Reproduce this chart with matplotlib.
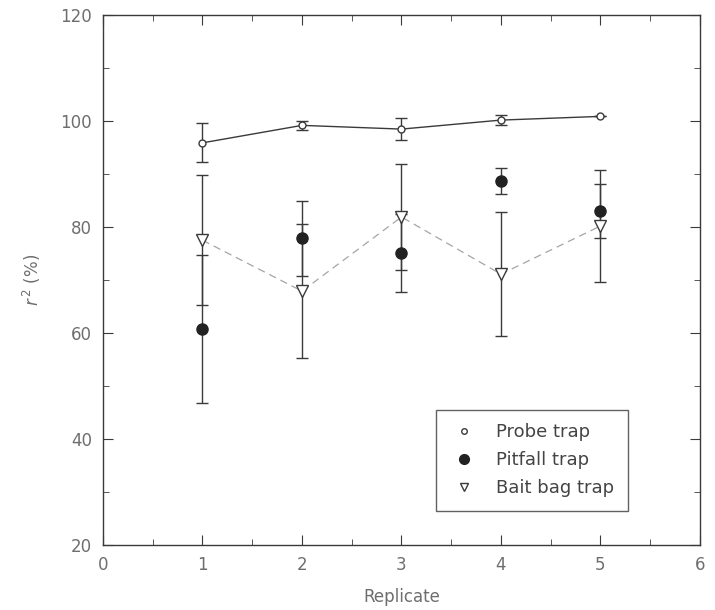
import matplotlib
matplotlib.use("Agg")
import matplotlib.pyplot as plt
from matplotlib.lines import Line2D
from matplotlib.ticker import MultipleLocator

# replicate number
rep = [1, 2, 3, 4, 5]

# r^2 (%) and error bar half-widths
probe = [95.9, 99.2, 98.5, 100.2, 100.9]
probe_err = [3.7, 0.8, 2.1, 1.0, 0.0]

pitfall = [60.7, 77.9, 75.1, 88.7, 83.0]
pitfall_err = [14.0, 7.1, 7.4, 2.4, 5.1]

bait = [77.5, 67.9, 81.9, 71.1, 80.2]
bait_err = [12.3, 12.7, 10.0, 11.7, 10.6]

labels = ["Probe trap", "Pitfall trap", "Bait bag trap"]

txt = "#6e6e6e"
ink = "#3a3a3a"

fig = plt.figure(figsize=(7.15, 6.1), dpi=100)
ax = fig.add_axes([0.144, 0.107, 0.835, 0.868])

# bait bag trap: dashed light line, open triangles
ax.errorbar(rep, bait, yerr=bait_err, fmt="none", ecolor=ink, elinewidth=1.0,
            capsize=4, capthick=1.0, zorder=2)
ax.plot(rep, bait, color="#a5a5a5", lw=0.9, ls=(0, (6, 4)), zorder=2)
ax.plot(rep, bait, ls="none", marker="v", ms=8, mfc="white", mec=ink, mew=1.0,
        zorder=4)

# pitfall trap: filled circles, no line
ax.errorbar(rep, pitfall, yerr=pitfall_err, fmt="none", ecolor=ink, elinewidth=1.0,
            capsize=4, capthick=1.0, zorder=2)
ax.plot(rep, pitfall, ls="none", marker="o", ms=8, color="#222222", zorder=4)

# probe trap: solid line, small open circles
ax.errorbar(rep, probe, yerr=probe_err, fmt="none", ecolor=ink, elinewidth=1.0,
            capsize=4, capthick=1.0, zorder=2)
ax.plot(rep, probe, color=ink, lw=1.0, marker="o", ms=5, mfc="white", mec=ink,
        mew=1.0, zorder=5)

ax.set_xlim(0, 6)
ax.set_ylim(20, 120)
ax.xaxis.set_major_locator(MultipleLocator(1))
ax.xaxis.set_minor_locator(MultipleLocator(0.5))
ax.yaxis.set_major_locator(MultipleLocator(20))
ax.yaxis.set_minor_locator(MultipleLocator(10))
ax.tick_params(which="both", direction="in", top=True, right=True,
               colors=ink, labelcolor=txt, labelsize=12, pad=8)
ax.tick_params(which="major", length=7)
ax.tick_params(which="minor", length=4)
for s in ax.spines.values():
    s.set_color(ink)
    s.set_linewidth(1.0)

ax.set_xlabel("Replicate", color=txt, fontsize=12, labelpad=10)
ax.set_ylabel(r"$r^{\,2}$ (%)", color=txt, fontsize=12, labelpad=12)

handles = [
    Line2D([], [], ls="none", marker="o", ms=4, mfc="white", mec=ink, mew=1.0),
    Line2D([], [], ls="none", marker="o", ms=7, color="#222222"),
    Line2D([], [], ls="none", marker="v", ms=6, mfc="white", mec=ink, mew=1.0),
]
leg = ax.legend(handles, labels, loc="lower right",
                bbox_to_anchor=(0.879, 0.064), fontsize=13,
                frameon=True, fancybox=False, edgecolor=ink, labelcolor="#444444",
                handlelength=1.6, handletextpad=1.0, borderpad=0.75,
                labelspacing=0.55, borderaxespad=0)
leg.get_frame().set_linewidth(1.0)
leg._legend_box.align = "left"
for t in leg.get_texts():
    t.set_fontstretch("expanded")
# widen the box a little to the left, as in the original
leg.set_bbox_to_anchor((0.879, 0.064))
fig.canvas.draw()
bb = leg.get_frame().get_bbox()
extra = 413 - bb.x0
leg.get_frame().set_x(bb.x0 + extra)
leg.get_frame().set_width(bb.width - extra)

fig.savefig("out.png", dpi=100)
